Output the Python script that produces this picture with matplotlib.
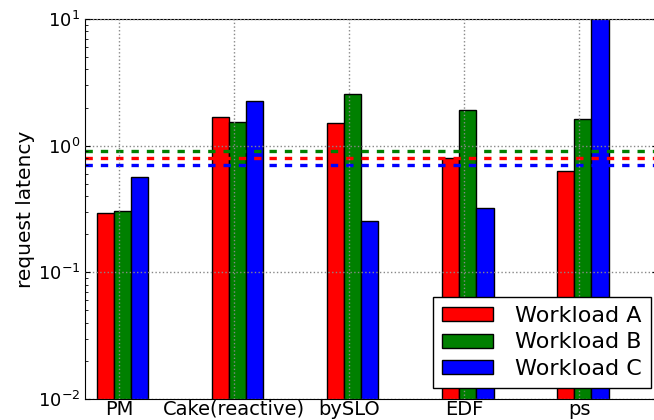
import matplotlib
matplotlib.use('Agg')
import matplotlib.pyplot as plt
import numpy as np

schedulers = ['PM', 'Cake(reactive)', 'bySLO', 'EDF', 'ps']
workload_a = [0.292, 1.68, 1.50, 0.795, 0.631]
workload_b = [0.305, 1.53, 2.56, 1.91, 1.62]
workload_c = [0.569, 2.27, 0.253, 0.322, 12.0]
slo_a = 0.80
slo_b = 0.90
slo_c = 0.70

fig = plt.figure(figsize=(6.54, 4.2), dpi=100)
ax = fig.add_axes([85/654, 21/420, 572/654, 380/420])

ind = np.arange(len(schedulers))
width = 0.15
ax.bar(ind, workload_a, width, color='#ff0000', edgecolor='black', linewidth=1, align='edge', label='Workload A')
ax.bar(ind + width, workload_b, width, color='#008000', edgecolor='black', linewidth=1, align='edge', label='Workload B')
ax.bar(ind + 2*width, workload_c, width, color='#0000ff', edgecolor='black', linewidth=1, align='edge', label='Workload C')

ax.axhline(slo_b, color='#008000', lw=2.4, dashes=(2.2, 2.4))
ax.axhline(slo_a, color='#ff0000', lw=2.4, dashes=(2.2, 2.4))
ax.axhline(slo_c, color='#0000ff', lw=2.4, dashes=(2.2, 2.4))

ax.set_yscale('log')
ax.set_ylim(0.01, 10)
ax.set_xlim(-0.1, 4.87)
ax.set_xticks(ind + 0.195)
ax.set_xticklabels(schedulers, fontsize=14)
ax.tick_params(axis='y', labelsize=13)
ax.tick_params(direction='in', top=True, right=True, which='both')
ax.tick_params(axis='x', length=0, pad=0.5)
ax.set_ylabel('request latency', fontsize=14.5, labelpad=2)
ax.set_axisbelow(False)
ax.grid(True, which='major', linestyle=':', color='#888888', linewidth=1)

ax.legend(loc='lower right', bbox_to_anchor=(651/654, 32/420), bbox_transform=fig.transFigure,
          borderaxespad=0, fontsize=16, fancybox=False, edgecolor='black', framealpha=1,
          handlelength=2.3, handleheight=0.6, handletextpad=1.0, labelspacing=0.3, borderpad=0.4)

plt.savefig('out.png', dpi=100)
plt.close()
